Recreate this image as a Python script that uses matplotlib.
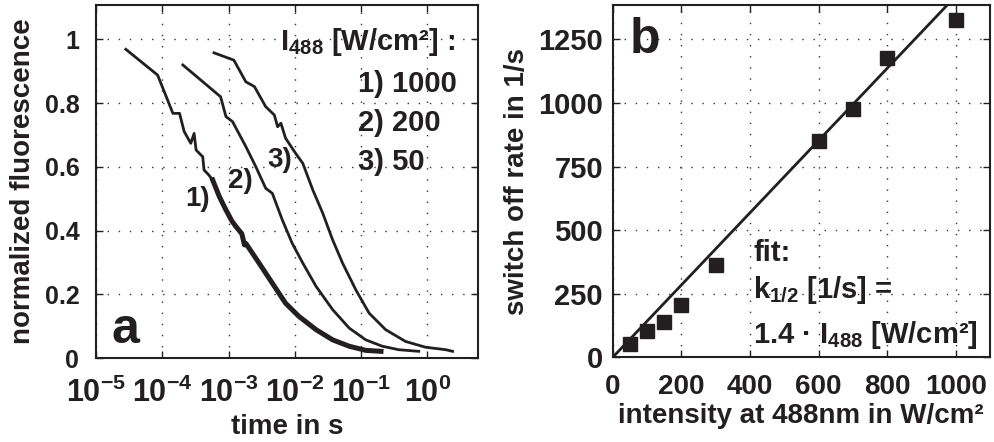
import matplotlib
matplotlib.use("Agg")
import matplotlib.pyplot as plt
import numpy as np

plt.rcParams['font.family'] = ['Liberation Sans', 'DejaVu Sans']
plt.rcParams['font.weight'] = 'bold'
plt.rcParams['axes.labelweight'] = 'bold'
plt.rcParams['mathtext.fontset'] = 'custom'
plt.rcParams['mathtext.bf'] = 'Liberation Sans:bold'
plt.rcParams['mathtext.rm'] = 'Liberation Sans:bold'
plt.rcParams['mathtext.it'] = 'Liberation Sans:bold'
plt.rcParams['mathtext.default'] = 'bf'

INK = '#231f20'

# panel a: normalized fluorescence vs time (log10 of time in s)
logt_1 = [-4.55, -4.07, -3.84, -3.74, -3.67, -3.57, -3.52, -3.49, -3.43, -3.39,
          -3.37, -3.30, -3.24, -3.14, -3.04, -2.95, -2.89, -2.80, -2.76, -2.74,
          -2.54, -2.34, -2.14, -1.94, -1.68, -1.43, -1.18, -0.93, -0.70]
fluo_1 = [0.969, 0.888, 0.768, 0.768, 0.711, 0.674, 0.705, 0.653, 0.640, 0.632,
          0.590, 0.575, 0.559, 0.507, 0.465, 0.430, 0.413, 0.390, 0.355, 0.360,
          0.298, 0.235, 0.172, 0.131, 0.089, 0.057, 0.037, 0.024, 0.021]

logt_2 = [-3.69, -3.12, -3.04, -2.94, -2.74, -2.59, -2.44, -2.34, -2.19, -2.04,
          -1.88, -1.68, -1.43, -1.18, -0.93, -0.68, -0.43, -0.13]
fluo_2 = [0.920, 0.820, 0.758, 0.742, 0.664, 0.601, 0.533, 0.517, 0.434, 0.360,
          0.298, 0.225, 0.152, 0.094, 0.057, 0.037, 0.026, 0.021]

logt_3 = [-3.22, -2.92, -2.74, -2.61, -2.44, -2.31, -2.26, -2.21, -2.14, -1.99,
          -1.88, -1.73, -1.58, -1.43, -1.28, -1.08, -0.88, -0.63, -0.33, -0.03,
          0.28, 0.38]
fluo_3 = [0.958, 0.935, 0.867, 0.852, 0.789, 0.763, 0.726, 0.737, 0.690, 0.643,
          0.611, 0.528, 0.455, 0.371, 0.298, 0.214, 0.141, 0.089, 0.052, 0.034,
          0.026, 0.021]

time_exponents = [-5, -4, -3, -2, -1, 0]
legend_lines = ['1) 1000', '2) 200', '3) 50']

# panel b: switch off rate vs intensity
intensity = [50, 100, 150, 200, 300, 600, 700, 800, 1000]
rate = [52, 103, 140, 205, 363, 851, 975, 1175, 1326]
fit_slope = 1.42

fig = plt.figure(figsize=(9.95, 4.42), dpi=100)
ax1 = fig.add_axes([0.0965, 0.19, 0.3839, 0.7986])
ax2 = fig.add_axes([0.6158, 0.1916, 0.3792, 0.797])

for ax in (ax1, ax2):
    for s in ax.spines.values():
        s.set_linewidth(1.5)
        s.set_color(INK)
    ax.tick_params(which='both', direction='in', top=True, right=True,
                   colors=INK, width=1.0)
    ax.tick_params(which='major', length=5)
    ax.tick_params(which='minor', length=3)
    ax.grid(True, which='major', color='#333333', linestyle=(0, (1, 7)), linewidth=1.0)
    ax.set_axisbelow(True)

# ---- panel a
ax1.plot(10 ** np.array(logt_1), fluo_1, color=INK, lw=2.0)
ax1.plot(10 ** np.array(logt_1[12:]), fluo_1[12:], color=INK, lw=3.6)
ax1.plot(10 ** np.array(logt_2), fluo_2, color=INK, lw=2.0)
ax1.plot(10 ** np.array(logt_3), fluo_3, color=INK, lw=2.0)
ax1.set_xscale('log')
ax1.set_xlim(1e-5, 5.8)
ax1.set_ylim(0, 1.108)
ax1.set_xticks([10.0 ** e for e in time_exponents])
ax1.set_xticklabels([r'$\mathbf{10}^{\mathbf{%s}}$' % ('−' + str(-e) if e < 0 else str(e))
                     for e in time_exponents])
ax1.set_yticks([0, 0.2, 0.4, 0.6, 0.8, 1])
ax1.set_yticklabels(['0', '0.2', '0.4', '0.6', '0.8', '1'])
ax1.tick_params(axis='x', which='major', pad=14, labelsize=22)
ax1.tick_params(axis='y', which='major', pad=12, labelsize=18)
ax1.set_xlabel('time in s', fontsize=20, color=INK, labelpad=4)
ax1.set_ylabel('normalized fluorescence', fontsize=20, color=INK, labelpad=6)

ax1.text(0.94, 0.895, r'I$_{488}$ [W/cm²] :', transform=ax1.transAxes,
         ha='right', va='center', fontsize=21, color=INK)
for i, lab in enumerate(legend_lines):
    ax1.text(0.686, 0.776 - i * 0.111, lab, transform=ax1.transAxes,
             ha='left', va='center', fontsize=21, color=INK)
ax1.text(10 ** -3.66, 0.50, '1)', ha='left', va='center', fontsize=20, color=INK)
ax1.text(10 ** -3.01, 0.556, '2)', ha='left', va='center', fontsize=20, color=INK)
ax1.text(10 ** -2.42, 0.622, '3)', ha='left', va='center', fontsize=20, color=INK)
ax1.text(0.04, 0.08, 'a', transform=ax1.transAxes, fontsize=36, color=INK,
         ha='left', va='center')

# ---- panel b
xs = np.array([0, 1100])
ax2.plot(xs, fit_slope * xs, color=INK, lw=2.0)
ax2.plot(intensity, rate, 's', color=INK, markersize=10)
ax2.set_xlim(0, 1100)
ax2.set_ylim(0, 1385)
ax2.set_xticks([0, 200, 400, 600, 800, 1000])
ax2.set_yticks([0, 250, 500, 750, 1000, 1250])
ax2.tick_params(axis='x', which='major', pad=12, labelsize=20)
ax2.tick_params(axis='y', which='major', pad=7, labelsize=21)
ax2.set_xlabel('intensity at 488nm in W/cm²', fontsize=20, color=INK, labelpad=2)
ax2.set_ylabel('switch off rate in 1/s', fontsize=20, color=INK, labelpad=6)
ax2.text(0.372, 0.295, 'fit:', transform=ax2.transAxes, fontsize=21, color=INK,
         ha='left', va='center')
ax2.text(0.372, 0.19, r'k$_{1/2}$ [1/s] =', transform=ax2.transAxes, fontsize=21,
         color=INK, ha='left', va='center')
ax2.text(0.372, 0.063, r'1.4 · I$_{488}$ [W/cm²]', transform=ax2.transAxes,
         fontsize=21, color=INK, ha='left', va='center')
ax2.text(0.045, 0.9, 'b', transform=ax2.transAxes, fontsize=36, color=INK,
         ha='left', va='center')

fig.savefig('out.png', dpi=100)
